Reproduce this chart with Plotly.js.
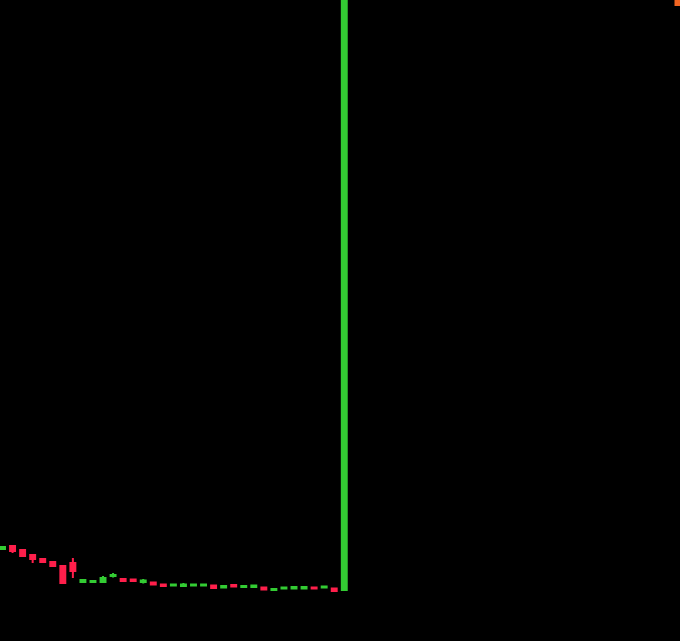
<!DOCTYPE html>
<html>
<head>
<meta charset="utf-8">
<script src="https://cdn.plot.ly/plotly-3.0.1.min.js"></script>
<style>html,body{margin:0;padding:0;background:#000;}#chart{width:680px;height:641px;}</style>
</head>
<body>
<div id="chart"></div>
<script>
// Candle index (session number)
const sessions = [0,1,2,3,4,5,6,7,8,9,10,11,12,13,14,15,16,17,18,19,20,21,22,23,24,25,26,27,28,29,30,31,32,33,34];
const openVals  = [92,95,91,86,82,79,75,78,59,59,59,65,62,61.5,59,58.5,56.5,55.5,55,55.5,55.5,55.5,53.5,56,54,54,53.5,51,52.5,52.5,52.5,53.5,53.5,52.5,51];
const highVals  = [95,96,92,87,83,80,76,83,62,60.5,65,68,62.5,62,62,59,57,57,58,57,57,56,56,57,55.5,56,54,53,54,55,55,54,55,53,961];
const lowVals   = [91,88,84,78,78,74,57,63,58,58,58,63.5,59,59.5,57.5,56,54.5,55,54,55,55,52,53,54,53.5,53.5,51,50,52,52,52,52,53,49,50];
const closeVals = [94,90,85,82,79,75,58,70,61,60,63,66,60,60,60.5,56.5,55,56.5,56.5,56.5,56.5,53,55,54.5,55,55.5,51.5,52,53.5,54,54,52.5,54.5,50,941];
// Last-price marker (orange), sits at the top-right edge
const markerX = [67.35];
const markerY = [640];

const up = '#33cc33', down = '#ff1f4b';
const traces = [
  {
    type: 'candlestick',
    x: sessions, open: openVals, high: highVals, low: lowVals, close: closeVals,
    increasing: {line: {color: up, width: 2}, fillcolor: up},
    decreasing: {line: {color: down, width: 2}, fillcolor: down},
    hoverinfo: 'none'
  },
  {
    type: 'scatter', mode: 'markers', x: markerX, y: markerY,
    marker: {symbol: 'square', size: 10, color: '#f26522'},
    hoverinfo: 'none'
  }
];
const layout = {
  width: 680, height: 641,
  margin: {l: 0, r: 0, t: 0, b: 0, pad: 0},
  paper_bgcolor: '#000', plot_bgcolor: '#000',
  showlegend: false,
  xaxis: {visible: false, range: [-0.25, 67.4], rangeslider: {visible: false}, fixedrange: true},
  yaxis: {visible: false, range: [0, 641], fixedrange: true}
};
Plotly.newPlot('chart', traces, layout, {displayModeBar: false, staticPlot: true});
</script>
</body>
</html>
